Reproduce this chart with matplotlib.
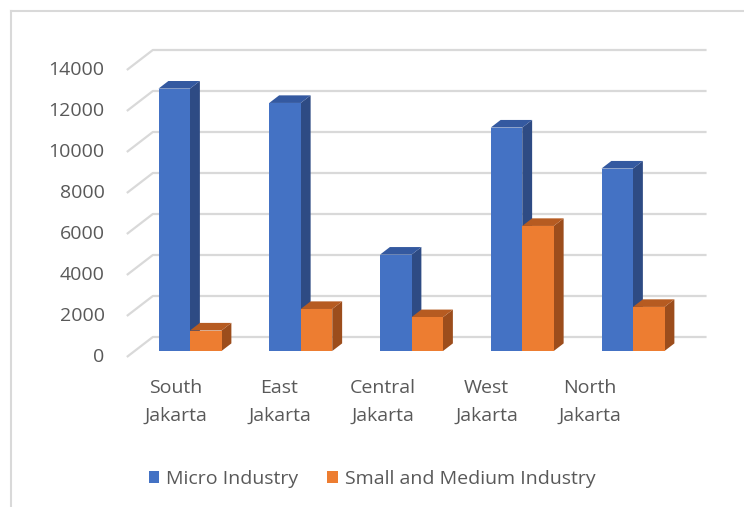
import matplotlib.pyplot as plt
from matplotlib.patches import Polygon, Patch
from matplotlib.lines import Line2D

# data
categories = ['South\nJakarta', 'East\nJakarta', 'Central\nJakarta', 'West\nJakarta', 'North\nJakarta']
micro = [12800, 12100, 4700, 10900, 8900]
small_medium = [1000, 2050, 1650, 6100, 2150]
series_names = ['Micro Industry', 'Small and Medium Industry']
y_ticks = [0, 2000, 4000, 6000, 8000, 10000, 12000, 14000]

plt.rcParams['font.family'] = ['Open Sans', 'DejaVu Sans']
TXT = '#595959'
GRID = '#D9D9D9'
face = {'micro': ('#4472C4', '#2E4B84', '#3459A0'),
        'sme': ('#ED7D31', '#9C4D1C', '#B65B21')}

W, H = 744, 507
fig = plt.figure(figsize=(W / 100, H / 100), dpi=100)

# pixel layout of the front plane of the bars
x0_pix, px_cat = 190.0, 110.75
y0_pix, px_val = 351.0, 41.0 / 2000
xlim = (-0.75, 4.8)
ylim = (-1500, 15800)
l_pix = x0_pix + xlim[0] * px_cat
r_pix = x0_pix + xlim[1] * px_cat
b_pix = y0_pix - ylim[0] * px_val
t_pix = y0_pix - ylim[1] * px_val
ax = fig.add_axes([l_pix / W, 1 - b_pix / H, (r_pix - l_pix) / W, (b_pix - t_pix) / H])
ax.set_xlim(xlim)
ax.set_ylim(ylim)
ax.axis('off')

# oblique depth: z=0 front edge of floor, z=1 back wall
dxD = 26.0 / px_cat
dyD = 20.0 / px_val
z_bar = 0.3
bar_depth = 0.38
x_left, x_right = -0.5, 4.5


def proj(x, v, z):
    return x + (z - z_bar) * dxD, v + (z - z_bar) * dyD


# walls
for v in y_ticks:
    xa, ya = proj(x_left, v, 0)
    xb, yb = proj(x_left, v, 1)
    xc, yc = proj(x_right, v, 1)
    ax.plot([xa, xb, xc], [ya, yb, yc], color=GRID, lw=1.6, solid_capstyle='butt', zorder=1)
    ax.text(xa - 0.2, ya, str(v), ha='right', va='center', fontsize=14, color=TXT)

# bars
w = 31.5 / px_cat


def draw_bar(xl, v, colors):
    front, side, top = colors
    xr = xl + w
    p = [proj(xr, 0, z_bar), proj(xr, 0, z_bar + bar_depth),
         proj(xr, v, z_bar + bar_depth), proj(xr, v, z_bar)]
    ax.add_patch(Polygon(p, closed=True, facecolor=side, edgecolor='none', zorder=2))
    p = [proj(xl, v, z_bar), proj(xl, v, z_bar + bar_depth),
         proj(xr, v, z_bar + bar_depth), proj(xr, v, z_bar)]
    ax.add_patch(Polygon(p, closed=True, facecolor=top, edgecolor='none', zorder=2))
    ax.bar(xl, v, width=w, align='edge', color=front, edgecolor='none', zorder=2)


for i in range(len(categories)):
    draw_bar(i - w, micro[i], face['micro'])
    draw_bar(i, small_medium[i], face['sme'])

# category labels along the front edge of the floor
label_step = 0.935
for i, lab in enumerate(categories):
    xa, ya = proj(-0.056 + i * label_step, -1050, 0)
    ax.text(xa, ya, lab, ha='center', va='top', fontsize=14, color=TXT, linespacing=1.75)

# legend
handles = [Patch(facecolor=face['micro'][0]), Patch(facecolor=face['sme'][0])]
fig.legend(handles, series_names, loc='center', bbox_to_anchor=(372 / W, 1 - 479 / H),
           ncol=2, frameon=False, fontsize=14, labelcolor=TXT, handlelength=0.55,
           handleheight=0.55, handletextpad=0.35, columnspacing=1.5)

# chart border (clipped at right and bottom)
fig.add_artist(Line2D([11 / W, 11 / W], [0, 1 - 11 / H], color=GRID, lw=1.5))
fig.add_artist(Line2D([11 / W, 1], [1 - 11 / H, 1 - 11 / H], color=GRID, lw=1.5))

plt.savefig('out.png', dpi=100)
plt.close()
